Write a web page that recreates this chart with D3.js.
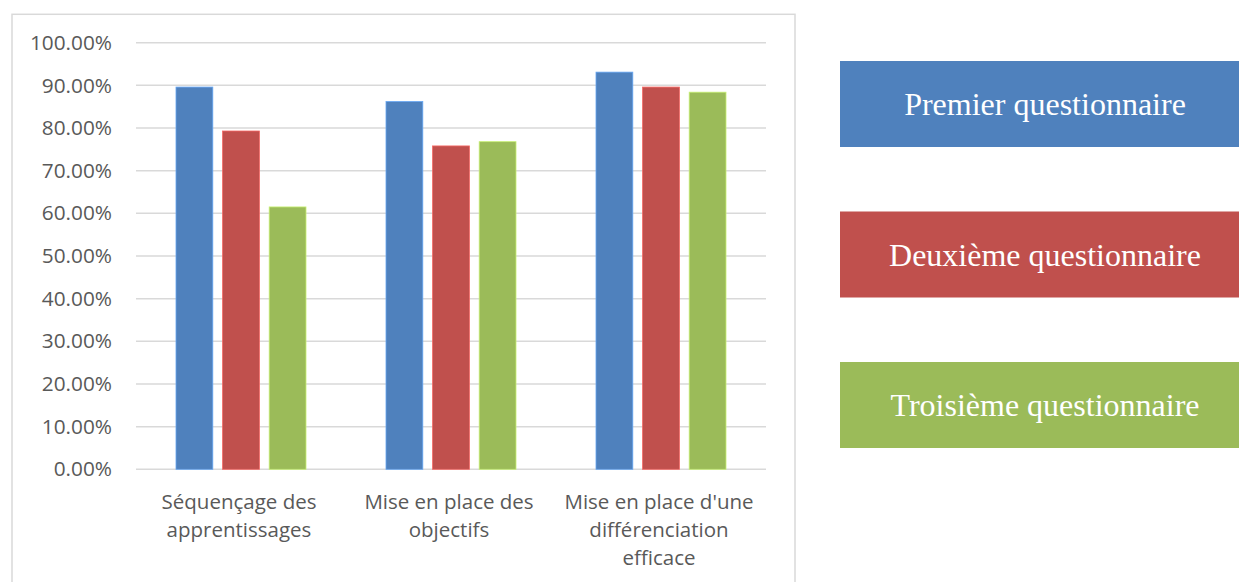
<!DOCTYPE html>
<html>
<head>
<meta charset="utf-8">
<script src="https://cdn.jsdelivr.net/npm/d3@7"></script>
<style>
  html, body { margin: 0; padding: 0; background: #ffffff; }
  svg { display: block; }
</style>
</head>
<body>
<div id="chart-container"></div>
<script>
// The data we are drawing
var categories = ["Séquençage des apprentissages", "Mise en place des objectifs", "Mise en place d'une différenciation efficace"];
var seriesNames = ["Premier questionnaire", "Deuxième questionnaire", "Troisième questionnaire"];
var premierValues = [0.896, 0.862, 0.931];
var deuxiemeValues = [0.793, 0.758, 0.896];
var troisiemeValues = [0.615, 0.768, 0.884];
var seriesColors = ["#4F81BD", "#C0504D", "#9BBB59"];
var yTicks = [0, 0.1, 0.2, 0.3, 0.4, 0.5, 0.6, 0.7, 0.8, 0.9, 1.0];

var allSeries = [premierValues, deuxiemeValues, troisiemeValues];

// Size of the whole picture
var width = 1239;
var height = 582;
var plot = { left: 136, right: 766, top: 42.7, bottom: 469.3 };

var svg = d3.select("#chart-container")
  .append("svg")
  .attr("width", width)
  .attr("height", height);

// Chart frame
svg.append("rect")
  .attr("x", 12)
  .attr("y", 14.3)
  .attr("width", 783)
  .attr("height", 600)
  .attr("fill", "none")
  .attr("stroke", "#d9d9d9")
  .attr("stroke-width", 1.5);

// Scales
var x0 = d3.scaleBand()
  .domain(categories)
  .range([plot.left, plot.right])
  .padding(0);

var x1 = d3.scaleBand()
  .domain(d3.range(allSeries.length))
  .range([40, 170])
  .paddingInner(0.21)
  .paddingOuter(0);

var y = d3.scaleLinear()
  .domain([0, 1])
  .range([plot.bottom, plot.top]);

// Gridlines
svg.append("g")
  .selectAll("line")
  .data(yTicks)
  .join("line")
  .attr("x1", plot.left)
  .attr("x2", plot.right)
  .attr("y1", d => y(d))
  .attr("y2", d => y(d))
  .attr("stroke", "#d9d9d9")
  .attr("stroke-width", 1.5);

// Y axis labels
var yAxis = svg.append("g")
  .attr("transform", `translate(${plot.left}, 0)`)
  .call(d3.axisLeft(y).tickValues(yTicks).tickFormat(d3.format(".2%")).tickSize(0).tickPadding(24));
yAxis.select(".domain").remove();
yAxis.selectAll("text")
  .attr("fill", "#595959")
  .style("font-family", "'Open Sans', sans-serif")
  .style("font-size", "20.8px");

// Bars
var groups = svg.append("g")
  .selectAll("g")
  .data(categories)
  .join("g")
  .attr("transform", d => `translate(${x0(d)}, 0)`);

groups.selectAll("rect")
  .data((d, ci) => allSeries.map((s, si) => ({ si: si, v: s[ci] })))
  .join("rect")
  .attr("x", d => x1(d.si))
  .attr("width", x1.bandwidth())
  .attr("y", d => y(d.v))
  .attr("height", d => y(0) - y(d.v))
  .attr("fill", d => seriesColors[d.si])
  .attr("stroke", d => d3.color(seriesColors[d.si]).brighter(0.7))
  .attr("stroke-width", 0.8);

// Category labels, wrapped like Excel does
var labelSize = "20.5px";
var measure = svg.append("text")
  .style("font-family", "'Open Sans', sans-serif")
  .style("font-size", labelSize);

function wrapLines(label, maxWidth) {
  var words = label.split(" ");
  var lines = [];
  var current = "";
  words.forEach(function (w) {
    var test = current ? current + " " + w : w;
    measure.text(test);
    if (measure.node().getComputedTextLength() > maxWidth && current) {
      lines.push(current);
      current = w;
    } else {
      current = test;
    }
  });
  if (current) lines.push(current);
  return lines;
}

categories.forEach(function (c) {
  var lines = wrapLines(c, 205);
  var t = svg.append("text")
    .attr("x", x0(c) + x0.bandwidth() / 2 - 2)
    .attr("y", 508.5)
    .attr("text-anchor", "middle")
    .attr("fill", "#595959")
    .style("font-family", "'Open Sans', sans-serif")
    .style("font-size", labelSize);
  lines.forEach(function (l, i) {
    t.append("tspan")
      .attr("x", x0(c) + x0.bandwidth() / 2 - 2)
      .attr("dy", i === 0 ? 0 : 28.4)
      .text(l);
  });
});
measure.remove();

// Legend boxes on the right
var legendY = d3.scalePoint()
  .domain(seriesNames)
  .range([104, 405]);

var legend = svg.append("g")
  .selectAll("g")
  .data(seriesNames)
  .join("g")
  .attr("transform", d => `translate(840, ${legendY(d)})`);

legend.append("rect")
  .attr("x", 0)
  .attr("y", -43)
  .attr("width", 410)
  .attr("height", 86)
  .attr("fill", (d, i) => seriesColors[i]);

legend.append("text")
  .attr("x", 205)
  .attr("y", 11)
  .attr("text-anchor", "middle")
  .attr("fill", "#ffffff")
  .style("font-family", "'Liberation Serif', serif")
  .style("font-size", "32px")
  .text(d => d);
</script>
</body>
</html>
